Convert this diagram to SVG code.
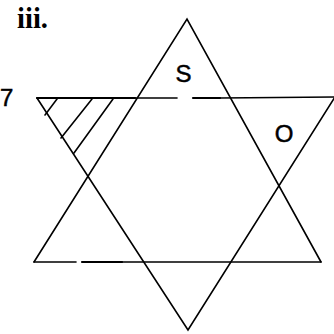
<svg xmlns="http://www.w3.org/2000/svg" width="334" height="334" viewBox="0 0 334 334">
<style>
.ln{fill:none;stroke:#000;stroke-width:1.6;stroke-linecap:round;stroke-linejoin:miter}
.th{stroke-width:2.2}
.lbl{font-family:"Liberation Sans",Arial,sans-serif;font-size:24px;fill:#000;stroke:#000;stroke-width:0.5}
.ser{font-family:"Liberation Serif","Times New Roman",serif;fill:#000}
</style>
<rect width="334" height="334" fill="#fff"/>
<text class="ser" x="17" y="28" font-size="29" font-weight="bold" textLength="31" lengthAdjust="spacingAndGlyphs">iii.</text>
<text class="lbl" x="0" y="106" font-size="12" stroke-width="0.3">7</text>
<g id="up-triangle">
<polyline class="ln" points="34,262 187,19 321,262"/>
<line class="ln" x1="34" y1="262" x2="76" y2="262"/>
<line class="ln th" x1="82" y1="262" x2="122" y2="262"/>
<line class="ln" x1="122" y1="262" x2="321" y2="262"/>
</g>
<g id="down-triangle">
<polyline class="ln" points="37,98 188,330 335,97"/>
<line class="ln th" x1="37" y1="98" x2="135" y2="98"/>
<line class="ln" x1="135" y1="98" x2="177" y2="98"/>
<line class="ln th" x1="193" y1="98" x2="220" y2="98"/>
<line class="ln" x1="220" y1="98" x2="335" y2="97"/>
</g>
<g id="hatch">
<line class="ln" x1="57" y1="99" x2="45" y2="115"/>
<line class="ln" x1="92" y1="99" x2="61" y2="138"/>
<line class="ln" x1="113" y1="99" x2="74" y2="153"/>
</g>
<g id="label-S"><text class="lbl" x="183.5" y="82" text-anchor="middle">S</text></g>
<g id="label-O"><text class="lbl" x="284" y="142" text-anchor="middle">O</text></g>
</svg>
